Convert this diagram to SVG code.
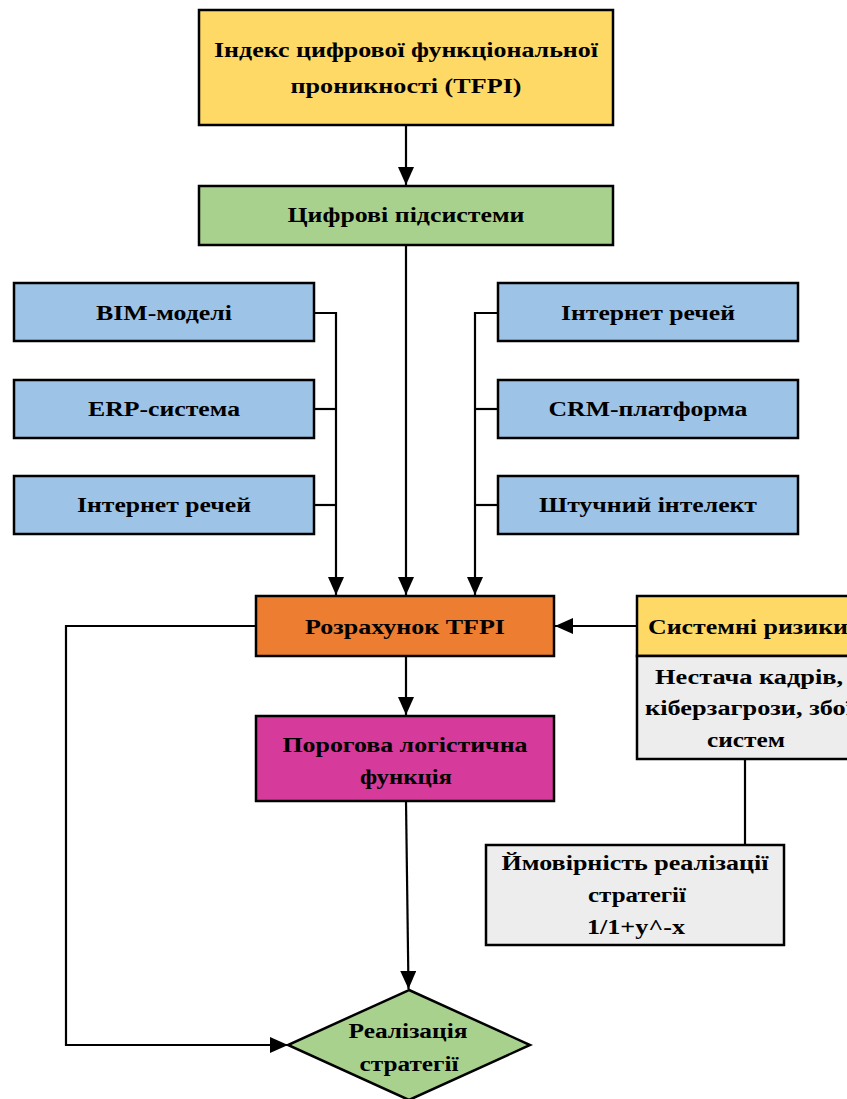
<svg xmlns="http://www.w3.org/2000/svg" width="847" height="1099" viewBox="0 0 847 1099">
<defs>
<marker id="arr" viewBox="0 0 18 16" refX="18" refY="8" markerWidth="18" markerHeight="16" markerUnits="userSpaceOnUse" orient="auto">
<path d="M0,0 L18,8 L0,16 Z" fill="#000"/>
</marker>
</defs>
<style>
.box{stroke:#000;stroke-width:2.5}
.t{font-family:"Liberation Serif","Times New Roman",serif;font-weight:bold;font-size:20px;fill:#000;text-anchor:middle}
.c{fill:none;stroke:#000;stroke-width:2.2}
</style>
<rect width="847" height="1099" fill="#fff"/>
<g id="connectors">
<path class="c" d="M406,125 V185" marker-end="url(#arr)"/>
<path class="c" d="M406,245 V595" marker-end="url(#arr)"/>
<path class="c" d="M314,313 H336 V595" marker-end="url(#arr)"/>
<path class="c" d="M314,409 H336"/>
<path class="c" d="M314,505 H336"/>
<path class="c" d="M498,313 H475 V595" marker-end="url(#arr)"/>
<path class="c" d="M498,409 H475"/>
<path class="c" d="M498,505 H475"/>
<path class="c" d="M637,626 H555" marker-end="url(#arr)"/>
<path class="c" d="M406,656 V715" marker-end="url(#arr)"/>
<path class="c" d="M745,759 V845"/>
<path class="c" d="M406,801 L408.5,989" marker-end="url(#arr)"/>
<path class="c" d="M256,626 H66 V1045 H288" marker-end="url(#arr)"/>
</g>
<g id="tfpi-index">
<rect class="box" x="199" y="10" width="414" height="115" fill="#FFD966"/>
<text class="t" x="406" y="57" textLength="384" lengthAdjust="spacingAndGlyphs">Індекс цифрової функціональної</text>
<text class="t" x="406" y="93" textLength="231" lengthAdjust="spacingAndGlyphs">проникності (TFPI)</text>
</g>
<g id="digital-subsystems">
<rect class="box" x="199" y="186" width="414" height="59" fill="#A9D18E"/>
<text class="t" x="406" y="222" textLength="237" lengthAdjust="spacingAndGlyphs">Цифрові підсистеми</text>
</g>
<g id="bim">
<rect class="box" x="14" y="283" width="300" height="58" fill="#9DC3E6"/>
<text class="t" x="164" y="320" textLength="136" lengthAdjust="spacingAndGlyphs">BIM-моделі</text>
</g>
<g id="erp">
<rect class="box" x="14" y="380" width="300" height="58" fill="#9DC3E6"/>
<text class="t" x="164" y="416" textLength="152" lengthAdjust="spacingAndGlyphs">ERP-система</text>
</g>
<g id="iot-left">
<rect class="box" x="14" y="476" width="300" height="58" fill="#9DC3E6"/>
<text class="t" x="164" y="512" textLength="174" lengthAdjust="spacingAndGlyphs">Інтернет речей</text>
</g>
<g id="iot-right">
<rect class="box" x="498" y="283" width="300" height="58" fill="#9DC3E6"/>
<text class="t" x="648" y="320" textLength="174" lengthAdjust="spacingAndGlyphs">Інтернет речей</text>
</g>
<g id="crm">
<rect class="box" x="498" y="380" width="300" height="58" fill="#9DC3E6"/>
<text class="t" x="648" y="416" textLength="199" lengthAdjust="spacingAndGlyphs">CRM-платформа</text>
</g>
<g id="ai">
<rect class="box" x="498" y="476" width="300" height="58" fill="#9DC3E6"/>
<text class="t" x="648" y="512" textLength="218" lengthAdjust="spacingAndGlyphs">Штучний інтелект</text>
</g>
<g id="tfpi-calc">
<rect class="box" x="256" y="596" width="298" height="60" fill="#ED7D31"/>
<text class="t" x="405" y="634" textLength="200" lengthAdjust="spacingAndGlyphs">Розрахунок TFPI</text>
</g>
<g id="system-risks">
<rect class="box" x="637" y="596" width="222" height="60" fill="#FFD966"/>
<text class="t" x="748" y="634" textLength="200" lengthAdjust="spacingAndGlyphs">Системні ризики</text>
<rect class="box" x="637" y="656" width="222" height="103" fill="#EDEDED"/>
<text class="t" x="749" y="684" textLength="188" lengthAdjust="spacingAndGlyphs">Нестача кадрів,</text>
<text class="t" x="749" y="715" textLength="208" lengthAdjust="spacingAndGlyphs">кіберзагрози, збої</text>
<text class="t" x="746" y="747" textLength="78" lengthAdjust="spacingAndGlyphs">систем</text>
</g>
<g id="threshold">
<rect class="box" x="256" y="716" width="298" height="85" fill="#D63A9A"/>
<text class="t" x="405" y="752" textLength="245" lengthAdjust="spacingAndGlyphs">Порогова логістична</text>
<text class="t" x="406" y="784" textLength="92" lengthAdjust="spacingAndGlyphs">функція</text>
</g>
<g id="probability">
<rect class="box" x="486" y="845" width="298" height="100" fill="#EDEDED"/>
<text class="t" x="635" y="870" textLength="267" lengthAdjust="spacingAndGlyphs">Ймовірність реалізації</text>
<text class="t" x="637" y="902" textLength="98" lengthAdjust="spacingAndGlyphs">стратегії</text>
<text class="t" x="636" y="934" textLength="98" lengthAdjust="spacingAndGlyphs">1/1+y^-x</text>
</g>
<g id="strategy">
<path class="box" d="M409,990 L530,1045 L409,1100 L288,1045 Z" fill="#A9D18E"/>
<text class="t" x="408" y="1038" textLength="119" lengthAdjust="spacingAndGlyphs">Реалізація</text>
<text class="t" x="409" y="1071" textLength="99" lengthAdjust="spacingAndGlyphs">стратегії</text>
</g>
</svg>
